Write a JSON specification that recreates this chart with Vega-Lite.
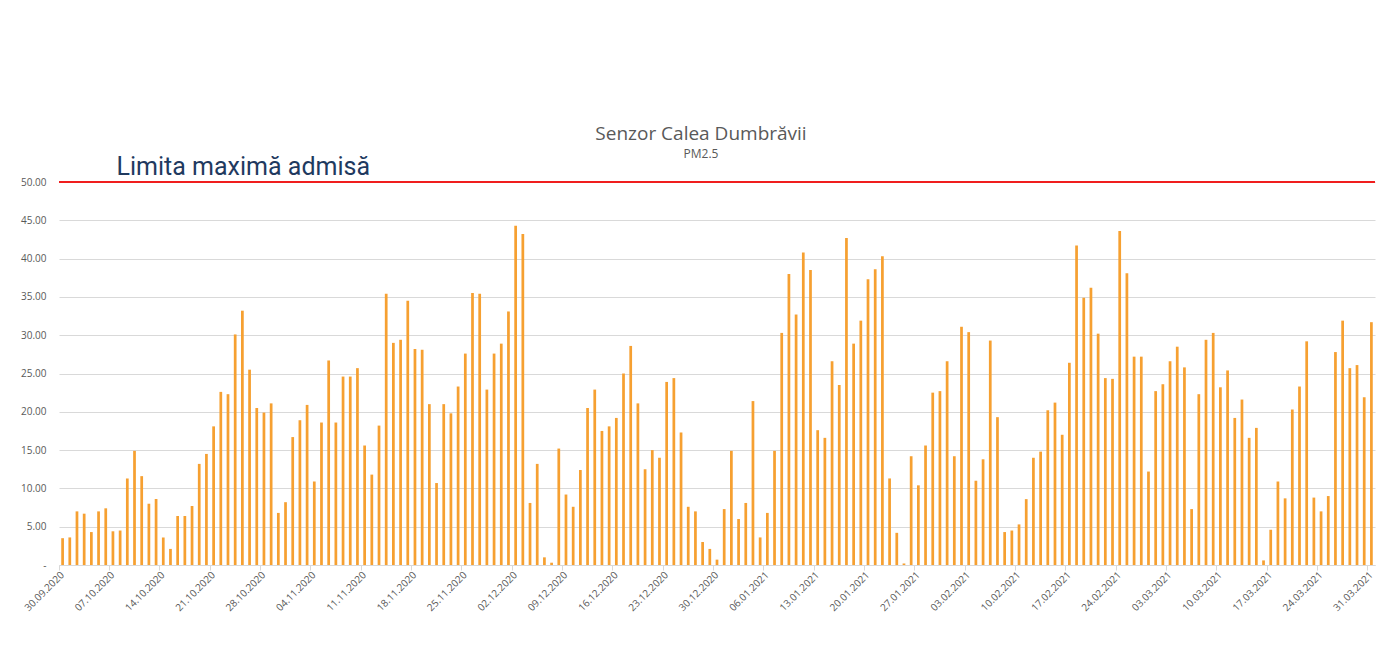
{
  "$schema": "https://vega.github.io/schema/vega-lite/v6.json",
  "width": 1316,
  "height": 383,
  "autosize": {"type": "none"},
  "padding": {"left": 59, "top": 182, "right": 12, "bottom": 101},
  "background": "white",
  "title": {
    "text": "Senzor Calea Dumbrăvii",
    "subtitle": "PM2.5",
    "font": "Open Sans",
    "fontSize": 19,
    "fontWeight": "normal",
    "color": "#595959",
    "subtitleFont": "Open Sans",
    "subtitleFontSize": 12,
    "subtitleColor": "#595959",
    "subtitlePadding": 5,
    "anchor": "middle",
    "dx": -16,
    "offset": -5
  },
  "config": {"view": {"stroke": null}},
  "data": {
    "values": [
      {"d": "30.09.2020", "v": 3.5}, {"d": "01.10.2020", "v": 3.6}, {"d": "02.10.2020", "v": 7.0},
      {"d": "03.10.2020", "v": 6.7}, {"d": "04.10.2020", "v": 4.3}, {"d": "05.10.2020", "v": 7.0},
      {"d": "06.10.2020", "v": 7.4}, {"d": "07.10.2020", "v": 4.4},
      {"d": "08.10.2020", "v": 4.5, "note": "Limita maximă admisă"},
      {"d": "09.10.2020", "v": 11.3}, {"d": "10.10.2020", "v": 14.9}, {"d": "11.10.2020", "v": 11.6},
      {"d": "12.10.2020", "v": 8.0}, {"d": "13.10.2020", "v": 8.6}, {"d": "14.10.2020", "v": 3.6},
      {"d": "15.10.2020", "v": 2.1}, {"d": "16.10.2020", "v": 6.4}, {"d": "17.10.2020", "v": 6.4},
      {"d": "18.10.2020", "v": 7.7}, {"d": "19.10.2020", "v": 13.2}, {"d": "20.10.2020", "v": 14.5},
      {"d": "21.10.2020", "v": 18.1}, {"d": "22.10.2020", "v": 22.6}, {"d": "23.10.2020", "v": 22.3},
      {"d": "24.10.2020", "v": 30.1}, {"d": "25.10.2020", "v": 33.2}, {"d": "26.10.2020", "v": 25.5},
      {"d": "27.10.2020", "v": 20.5}, {"d": "28.10.2020", "v": 19.9}, {"d": "29.10.2020", "v": 21.1},
      {"d": "30.10.2020", "v": 6.8}, {"d": "31.10.2020", "v": 8.2},
      {"d": "01.11.2020", "v": 16.7}, {"d": "02.11.2020", "v": 18.9}, {"d": "03.11.2020", "v": 20.9},
      {"d": "04.11.2020", "v": 10.9}, {"d": "05.11.2020", "v": 18.6}, {"d": "06.11.2020", "v": 26.7},
      {"d": "07.11.2020", "v": 18.6}, {"d": "08.11.2020", "v": 24.6}, {"d": "09.11.2020", "v": 24.6},
      {"d": "10.11.2020", "v": 25.7}, {"d": "11.11.2020", "v": 15.6}, {"d": "12.11.2020", "v": 11.8},
      {"d": "13.11.2020", "v": 18.2}, {"d": "14.11.2020", "v": 35.4}, {"d": "15.11.2020", "v": 29.0},
      {"d": "16.11.2020", "v": 29.4}, {"d": "17.11.2020", "v": 34.5}, {"d": "18.11.2020", "v": 28.2},
      {"d": "19.11.2020", "v": 28.1}, {"d": "20.11.2020", "v": 21.0}, {"d": "21.11.2020", "v": 10.7},
      {"d": "22.11.2020", "v": 21.0}, {"d": "23.11.2020", "v": 19.8}, {"d": "24.11.2020", "v": 23.3},
      {"d": "25.11.2020", "v": 27.6}, {"d": "26.11.2020", "v": 35.5}, {"d": "27.11.2020", "v": 35.4},
      {"d": "28.11.2020", "v": 22.9}, {"d": "29.11.2020", "v": 27.6}, {"d": "30.11.2020", "v": 28.9},
      {"d": "01.12.2020", "v": 33.1}, {"d": "02.12.2020", "v": 44.3}, {"d": "03.12.2020", "v": 43.2},
      {"d": "04.12.2020", "v": 8.1}, {"d": "05.12.2020", "v": 13.2}, {"d": "06.12.2020", "v": 1.0},
      {"d": "07.12.2020", "v": 0.3}, {"d": "08.12.2020", "v": 15.2}, {"d": "09.12.2020", "v": 9.2},
      {"d": "10.12.2020", "v": 7.6}, {"d": "11.12.2020", "v": 12.4}, {"d": "12.12.2020", "v": 20.5},
      {"d": "13.12.2020", "v": 22.9}, {"d": "14.12.2020", "v": 17.5}, {"d": "15.12.2020", "v": 18.1},
      {"d": "16.12.2020", "v": 19.2}, {"d": "17.12.2020", "v": 25.0}, {"d": "18.12.2020", "v": 28.6},
      {"d": "19.12.2020", "v": 21.1}, {"d": "20.12.2020", "v": 12.5}, {"d": "21.12.2020", "v": 15.0},
      {"d": "22.12.2020", "v": 14.0}, {"d": "23.12.2020", "v": 23.9}, {"d": "24.12.2020", "v": 24.4},
      {"d": "25.12.2020", "v": 17.3}, {"d": "26.12.2020", "v": 7.6}, {"d": "27.12.2020", "v": 7.0},
      {"d": "28.12.2020", "v": 3.0}, {"d": "29.12.2020", "v": 2.1}, {"d": "30.12.2020", "v": 0.7},
      {"d": "31.12.2020", "v": 7.3},
      {"d": "01.01.2021", "v": 14.9}, {"d": "02.01.2021", "v": 6.0}, {"d": "03.01.2021", "v": 8.1},
      {"d": "04.01.2021", "v": 21.4}, {"d": "05.01.2021", "v": 3.6}, {"d": "06.01.2021", "v": 6.8},
      {"d": "07.01.2021", "v": 14.9}, {"d": "08.01.2021", "v": 30.3}, {"d": "09.01.2021", "v": 38.0},
      {"d": "10.01.2021", "v": 32.7}, {"d": "11.01.2021", "v": 40.8}, {"d": "12.01.2021", "v": 38.5},
      {"d": "13.01.2021", "v": 17.6}, {"d": "14.01.2021", "v": 16.6}, {"d": "15.01.2021", "v": 26.6},
      {"d": "16.01.2021", "v": 23.5}, {"d": "17.01.2021", "v": 42.7}, {"d": "18.01.2021", "v": 28.9},
      {"d": "19.01.2021", "v": 31.9}, {"d": "20.01.2021", "v": 37.3}, {"d": "21.01.2021", "v": 38.6},
      {"d": "22.01.2021", "v": 40.3}, {"d": "23.01.2021", "v": 11.3}, {"d": "24.01.2021", "v": 4.2},
      {"d": "25.01.2021", "v": 0.2}, {"d": "26.01.2021", "v": 14.2}, {"d": "27.01.2021", "v": 10.4},
      {"d": "28.01.2021", "v": 15.6}, {"d": "29.01.2021", "v": 22.5}, {"d": "30.01.2021", "v": 22.7},
      {"d": "31.01.2021", "v": 26.6},
      {"d": "01.02.2021", "v": 14.2}, {"d": "02.02.2021", "v": 31.1}, {"d": "03.02.2021", "v": 30.4},
      {"d": "04.02.2021", "v": 11.0}, {"d": "05.02.2021", "v": 13.8}, {"d": "06.02.2021", "v": 29.3},
      {"d": "07.02.2021", "v": 19.3}, {"d": "08.02.2021", "v": 4.3}, {"d": "09.02.2021", "v": 4.5},
      {"d": "10.02.2021", "v": 5.3}, {"d": "11.02.2021", "v": 8.6}, {"d": "12.02.2021", "v": 14.0},
      {"d": "13.02.2021", "v": 14.8}, {"d": "14.02.2021", "v": 20.2}, {"d": "15.02.2021", "v": 21.2},
      {"d": "16.02.2021", "v": 17.0}, {"d": "17.02.2021", "v": 26.4}, {"d": "18.02.2021", "v": 41.7},
      {"d": "19.02.2021", "v": 34.9}, {"d": "20.02.2021", "v": 36.2}, {"d": "21.02.2021", "v": 30.2},
      {"d": "22.02.2021", "v": 24.4}, {"d": "23.02.2021", "v": 24.3}, {"d": "24.02.2021", "v": 43.6},
      {"d": "25.02.2021", "v": 38.1}, {"d": "26.02.2021", "v": 27.2}, {"d": "27.02.2021", "v": 27.2},
      {"d": "28.02.2021", "v": 12.2},
      {"d": "01.03.2021", "v": 22.7}, {"d": "02.03.2021", "v": 23.6}, {"d": "03.03.2021", "v": 26.6},
      {"d": "04.03.2021", "v": 28.5}, {"d": "05.03.2021", "v": 25.8}, {"d": "06.03.2021", "v": 7.3},
      {"d": "07.03.2021", "v": 22.3}, {"d": "08.03.2021", "v": 29.4}, {"d": "09.03.2021", "v": 30.3},
      {"d": "10.03.2021", "v": 23.2}, {"d": "11.03.2021", "v": 25.4}, {"d": "12.03.2021", "v": 19.2},
      {"d": "13.03.2021", "v": 21.6}, {"d": "14.03.2021", "v": 16.6}, {"d": "15.03.2021", "v": 17.9},
      {"d": "16.03.2021", "v": 0.6}, {"d": "17.03.2021", "v": 4.6}, {"d": "18.03.2021", "v": 10.9},
      {"d": "19.03.2021", "v": 8.7}, {"d": "20.03.2021", "v": 20.3}, {"d": "21.03.2021", "v": 23.3},
      {"d": "22.03.2021", "v": 29.2}, {"d": "23.03.2021", "v": 8.8}, {"d": "24.03.2021", "v": 7.0},
      {"d": "25.03.2021", "v": 9.0}, {"d": "26.03.2021", "v": 27.8}, {"d": "27.03.2021", "v": 31.9},
      {"d": "28.03.2021", "v": 25.7}, {"d": "29.03.2021", "v": 26.1}, {"d": "30.03.2021", "v": 21.9},
      {"d": "31.03.2021", "v": 31.7}
    ]
  },
  "layer": [
    {
      "mark": {"type": "bar", "width": {"band": 0.38}, "color": "#F6A031"},
      "encoding": {
        "x": {
          "field": "d",
          "type": "ordinal",
          "sort": null,
          "scale": {"paddingInner": 0, "paddingOuter": 0},
          "axis": {
            "title": null,
            "values": [
              "30.09.2020", "07.10.2020", "14.10.2020", "21.10.2020", "28.10.2020", "04.11.2020",
              "11.11.2020", "18.11.2020", "25.11.2020", "02.12.2020", "09.12.2020", "16.12.2020",
              "23.12.2020", "30.12.2020", "06.01.2021", "13.01.2021", "20.01.2021", "27.01.2021",
              "03.02.2021", "10.02.2021", "17.02.2021", "24.02.2021", "03.03.2021", "10.03.2021",
              "17.03.2021", "24.03.2021", "31.03.2021"
            ],
            "bandPosition": 0,
            "labelAngle": -45,
            "labelAlign": "right",
            "labelBaseline": "middle",
            "labelFont": "Open Sans",
            "labelFontSize": 10,
            "labelColor": "#595959",
            "labelPadding": 3,
            "domainColor": "#d9d9d9",
            "tickColor": "#d9d9d9",
            "tickSize": 5,
            "grid": false
          }
        },
        "y": {
          "field": "v",
          "type": "quantitative",
          "scale": {"domain": [0, 50], "nice": false},
          "axis": {
            "title": null,
            "values": [0, 5, 10, 15, 20, 25, 30, 35, 40, 45, 50],
            "tickCount": 20,
            "labelOverlap": false,
            "labelExpr": "datum.value === 0 ? '-' : format(datum.value, '.2f')",
            "domain": false,
            "ticks": false,
            "gridColor": "#d9d9d9",
            "labelFont": "Open Sans",
            "labelFontSize": 10,
            "labelColor": "#595959",
            "labelPadding": 13
          }
        }
      }
    },
    {
      "data": {"values": [{"limit": 50}]},
      "mark": {"type": "rule", "color": "#F01E1E", "strokeWidth": 2},
      "encoding": {"y": {"field": "limit", "type": "quantitative"}}
    },
    {
      "mark": {
        "type": "text",
        "align": "left",
        "baseline": "alphabetic",
        "dy": -7,
        "font": "Roboto",
        "fontSize": 25,
        "color": "#1F3A5F"
      },
      "encoding": {
        "x": {"field": "d", "type": "ordinal", "sort": null, "bandPosition": 0},
        "y": {"datum": 50},
        "text": {"condition": {"test": "datum.note", "field": "note"}, "value": ""}
      }
    }
  ]
}
